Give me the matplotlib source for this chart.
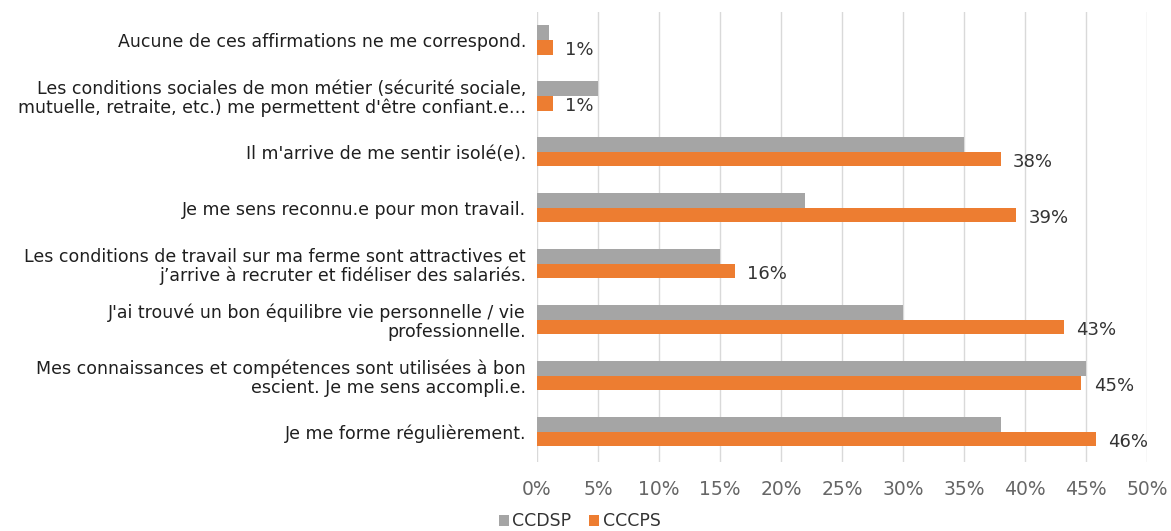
import numpy as np
import matplotlib
matplotlib.use("Agg")
import matplotlib.pyplot as plt

# categories, top to bottom as in the chart
categories = [
    "Aucune de ces affirmations ne me correspond.",
    "Les conditions sociales de mon métier (sécurité sociale,\nmutuelle, retraite, etc.) me permettent d'être confiant.e…",
    "Il m'arrive de me sentir isolé(e).",
    "Je me sens reconnu.e pour mon travail.",
    "Les conditions de travail sur ma ferme sont attractives et\nj’arrive à recruter et fidéliser des salariés.",
    "J'ai trouvé un bon équilibre vie personnelle / vie\nprofessionnelle.",
    "Mes connaissances et compétences sont utilisées à bon\nescient. Je me sens accompli.e.",
    "Je me forme régulièrement.",
]
ccdsp = [1.0, 5.0, 35.0, 22.0, 15.0, 30.0, 45.0, 38.0]
cccps = [1.3, 1.3, 38.0, 39.3, 16.2, 43.2, 44.6, 45.8]
xticks = [0, 5, 10, 15, 20, 25, 30, 35, 40, 45, 50]

gray = "#a5a5a5"
orange = "#ed7d31"

plt.rcParams['font.family'] = ['DejaVu Sans']

fig = plt.figure(figsize=(11.71, 5.31), dpi=100)
ax = fig.add_axes([0.4586, 0.130, 0.5209, 0.8474])

n = len(categories)
y = np.arange(n)[::-1]
h = 0.26

ax.barh(y + h / 2, ccdsp, height=h, color=gray, label="CCDSP", zorder=3)
ax.barh(y - h / 2, cccps, height=h, color=orange, label="CCCPS", zorder=3)

for yi, v in zip(y, cccps):
    ax.annotate("{:.0f}%".format(v), (v, yi - h / 2), xytext=(9, -2),
                textcoords="offset points", va="center", ha="left",
                fontsize=13, color="#333333")

ax.set_xlim(0, 50)
ax.set_ylim(-0.54, n - 0.5)
ax.set_xticks(xticks)
ax.set_xticklabels(["{}%".format(t) for t in xticks], fontsize=13.5, color="#666666")
ax.set_yticks(y)
ax.set_yticklabels(categories, fontsize=12.5, color="#1f1f1f", linespacing=1.05)
ax.tick_params(axis="both", length=0)
ax.tick_params(axis="x", pad=13)
ax.tick_params(axis="y", pad=8)
ax.grid(axis="x", color="#d9d9d9", linewidth=1, zorder=0)
for s in ax.spines.values():
    s.set_visible(False)

fig.legend(loc="center", bbox_to_anchor=(0.495, 0.018), ncol=2, frameon=False,
           fontsize=12.5, handlelength=0.6, handleheight=0.6, handletextpad=0.2,
           columnspacing=1.0, labelcolor="#333333")

fig.savefig("out.png", dpi=100)
